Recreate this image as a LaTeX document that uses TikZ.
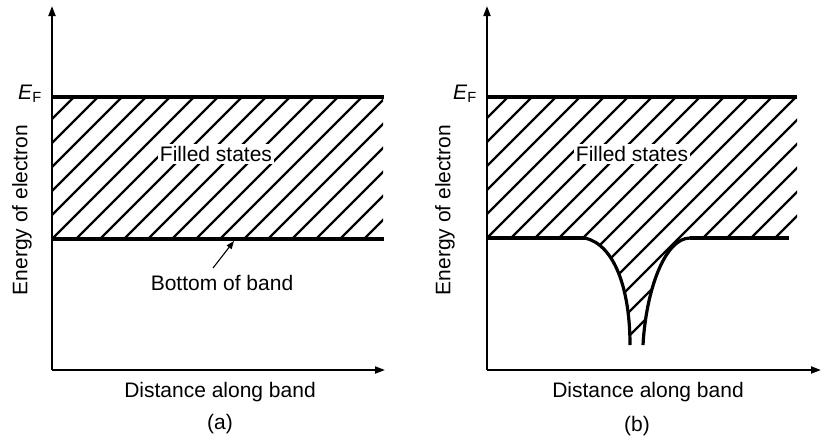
\documentclass[tikz,border=0pt]{standalone}
\usepackage{fontspec}
\setmainfont{Liberation Sans}
\usetikzlibrary{arrows.meta}
\tikzset{
  axis/.style={line width=1.9pt,-{Triangle[length=10pt,width=7pt]}},
  bandline/.style={line width=3.2pt},
  hatch/.style={line width=2.3pt},
  lbl/.style={font=\fontsize{21}{24}\selectfont, inner sep=1pt},
  wlbl/.style={lbl, fill=white, inner sep=2pt},
}
\begin{document}
\begin{tikzpicture}[x=1pt,y=-1pt]
\useasboundingbox (0,0) rectangle (821,440);
% ---------- panel (a) ----------
\coordinate (aO) at (52,370);
\coordinate (aY) at (52,6);
\coordinate (aX) at (385,370);
\begin{scope}
  \clip (52,97) rectangle (383,239);
  \foreach \c in {51,75,...,651} { \draw[hatch] (\c-420,420) -- (\c,0); }
\end{scope}
\draw[axis] (aO) -- (aY);
\draw[axis] (aO) -- (aX);
\coordinate (aF1) at (52,97); \coordinate (aF2) at (384,97);
\coordinate (aB1) at (52,239); \coordinate (aB2) at (384,239);
\draw[bandline] (aF1) -- (aF2);
\draw[bandline] (aB1) -- (aB2);
\node[wlbl] (afill) at (216,154) {Filled states};
\node[lbl] (abot) at (222,283) {Bottom of band};
\coordinate (atip) at (234,241);
\coordinate (astart) at (213,268);
\draw[line width=1.1pt,-{Triangle[length=8pt,width=6pt]}] (astart) -- (atip);
\node[lbl] (aEF) at (30,94) {\textit{E}\textsubscript{F}};
\node[lbl, rotate=90] (aEn) at (22,210) {Energy of electron};
\node[lbl] (aDist) at (220,392) {Distance along band};
\node[lbl] (acap) at (220,424) {(a)};
% ---------- panel (b) ----------
\coordinate (bO) at (487,370);
\coordinate (bY) at (487,6);
\coordinate (bX) at (821,370);
\begin{scope}
  \clip (487,97) -- (797,97) -- (797,228) -- (787,238) -- (690,238)
     .. controls (665,238) and (646,290) .. (643,345) -- (630,345)
     .. controls (630,290) and (615,245) .. (585,238) -- (487,238) -- cycle;
  \foreach \c in {485,509,...,1205} { \draw[hatch] (\c-420,420) -- (\c,0); }
\end{scope}
\draw[axis] (bO) -- (bY);
\draw[axis] (bO) -- (bX);
\coordinate (bF1) at (487,97); \coordinate (bF2) at (797,97);
\coordinate (bB1) at (487,238); \coordinate (bB2) at (789,238);
\coordinate (bL) at (585,238); \coordinate (bR) at (690,238);
\coordinate (bLb) at (630,345); \coordinate (bRb) at (643,345);
\draw[bandline] (bF1) -- (bF2);
\draw[bandline] (bB1) -- (bL);
\draw[bandline] (bR) -- (bB2);
\draw[bandline] (bL) .. controls (615,245) and (630,290) .. (bLb);
\draw[bandline] (bR) .. controls (665,238) and (646,290) .. (bRb);
\node[wlbl] (bfill) at (632,154) {Filled states};
\node[lbl] (bEF) at (465,94) {\textit{E}\textsubscript{F}};
\node[lbl, rotate=90] (bEn) at (445,210) {Energy of electron};
\node[lbl] (bDist) at (648,392) {Distance along band};
\node[lbl] (bcap) at (637,426) {(b)};
\end{tikzpicture}
\end{document}
